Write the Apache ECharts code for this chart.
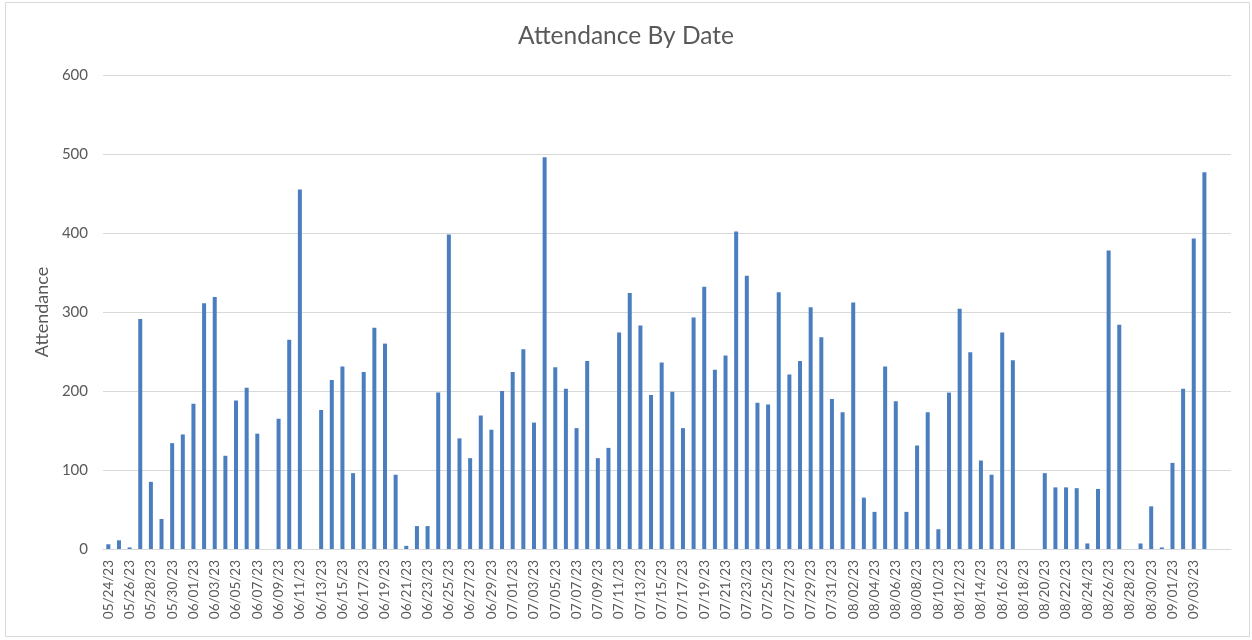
<!DOCTYPE html>
<html>
<head>
<meta charset="utf-8">
<script src="https://cdn.jsdelivr.net/npm/echarts@6/dist/echarts.min.js"></script>
<style>
html,body{margin:0;padding:0;background:#fff;}
#chart{width:1252px;height:640px;}
</style>
</head>
<body>
<div id="chart"></div>
<script>
const titleText = "Attendance By Date";
const yAxisTitle = "Attendance";
const dates = [
"05/24/23","05/25/23","05/26/23","05/27/23","05/28/23","05/29/23","05/30/23","05/31/23",
"06/01/23","06/02/23","06/03/23","06/04/23","06/05/23","06/06/23","06/07/23","06/08/23","06/09/23","06/10/23",
"06/11/23","06/12/23","06/13/23","06/14/23","06/15/23","06/16/23","06/17/23","06/18/23","06/19/23","06/20/23",
"06/21/23","06/22/23","06/23/23","06/24/23","06/25/23","06/26/23","06/27/23","06/28/23","06/29/23","06/30/23",
"07/01/23","07/02/23","07/03/23","07/04/23","07/05/23","07/06/23","07/07/23","07/08/23","07/09/23","07/10/23",
"07/11/23","07/12/23","07/13/23","07/14/23","07/15/23","07/16/23","07/17/23","07/18/23","07/19/23","07/20/23",
"07/21/23","07/22/23","07/23/23","07/24/23","07/25/23","07/26/23","07/27/23","07/28/23","07/29/23","07/30/23","07/31/23",
"08/01/23","08/02/23","08/03/23","08/04/23","08/05/23","08/06/23","08/07/23","08/08/23","08/09/23","08/10/23",
"08/11/23","08/12/23","08/13/23","08/14/23","08/15/23","08/16/23","08/17/23","08/18/23","08/19/23","08/20/23",
"08/21/23","08/22/23","08/23/23","08/24/23","08/25/23","08/26/23","08/27/23","08/28/23","08/29/23","08/30/23","08/31/23",
"09/01/23","09/02/23","09/03/23","09/04/23","09/05/23","09/06/23"
];
const attendance = [
6,11,2,291,85,38,134,145,
184,311,319,118,188,204,146,0,165,265,
455,0,176,214,231,96,224,280,260,94,
4,29,29,198,398,140,115,169,151,200,
224,253,160,496,230,203,153,238,115,128,
274,324,283,195,236,199,153,293,332,227,
245,402,346,185,183,325,221,238,306,268,190,
173,312,65,47,231,187,47,131,173,25,
198,304,249,112,94,274,239,0,0,96,
78,78,77,7,76,378,284,0,7,54,2,
109,203,393,477,null,null
];
const lastLabeledIndex = 103;
const yTicks = {min:0, max:600, interval:100};

const chart = echarts.init(document.getElementById('chart'), null, {renderer:'canvas'});
const font = 'Lato, "Open Sans", sans-serif';
chart.setOption({
  animation:false,
  backgroundColor:'#ffffff',
  textStyle:{fontFamily:font},
  title:{
    text:titleText, left:'center', top:19,
    textStyle:{fontFamily:font, fontSize:24.5, fontWeight:'normal', color:'#595959'}
  },
  graphic:[{
    type:'rect', shape:{x:5.5,y:2.5,width:1244,height:634},
    style:{fill:'none', stroke:'#d9d9d9', lineWidth:1}, silent:true
  }],
  grid:{left:103, right:21, top:75, bottom:91, containLabel:false},
  xAxis:{
    type:'category', data:dates, boundaryGap:true,
    axisLine:{show:true, lineStyle:{color:'#d9d9d9', width:1}},
    axisTick:{show:false},
    axisLabel:{
      rotate:90, fontSize:13.5, color:'#595959', fontFamily:font, margin:11,
      interval:function(i){ return i % 2 === 0 && i <= lastLabeledIndex; }
    },
    splitLine:{show:false}
  },
  yAxis:{
    type:'value', min:yTicks.min, max:yTicks.max, interval:yTicks.interval,
    name:yAxisTitle, nameLocation:'middle', nameGap:50, nameRotate:90,
    nameTextStyle:{fontSize:18, color:'#595959', fontFamily:font},
    axisLine:{show:false}, axisTick:{show:false},
    axisLabel:{fontSize:15, color:'#595959', margin:15, fontFamily:font},
    splitLine:{show:true, lineStyle:{color:'#d9d9d9', width:1}}
  },
  series:[{
    type:'bar', data:attendance, barWidth:4,
    itemStyle:{color:'#4a7ebf'}
  }]
});
</script>
</body>
</html>
